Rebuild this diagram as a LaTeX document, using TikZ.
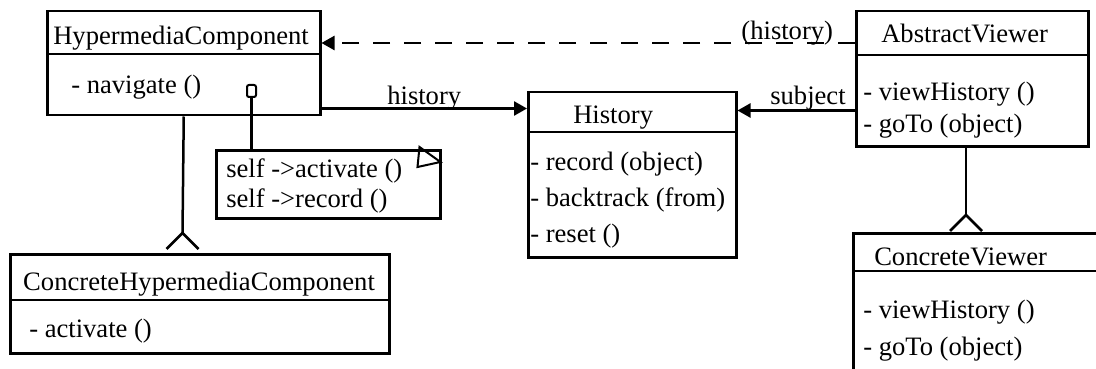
\documentclass[tikz,border=0pt]{standalone}
\usepackage{fontspec}
\setmainfont{Liberation Serif}
\usetikzlibrary{arrows.meta}

\tikzset{
  classbox/.style={draw, inner sep=0pt, anchor=north west},
  txt/.style={anchor=base west, inner sep=0pt},
  assoc/.style={-{Triangle[length=13pt,width=14pt]}},
}

\begin{document}
\begin{tikzpicture}[x=1pt, y=-1pt, line width=2.5pt, font=\fontsize{26.6}{30}\selectfont]
        \useasboundingbox (0,0) rectangle (1096,369);
        \clip (0,0) rectangle (1096,369);

        % class boxes
        \node[classbox, minimum width=273pt, minimum height=104pt] (hc) at (46,10) {};
        \node[classbox, minimum width=208pt, minimum height=165pt] (hist) at (527,91) {};
        \node[classbox, minimum width=232pt, minimum height=135pt] (av) at (855,10) {};
        \node[classbox, minimum width=270pt, minimum height=160pt] (cv) at (852,232) {};
        \node[classbox, minimum width=379pt, minimum height=99pt] (chc) at (9,253) {};
        \node[classbox, minimum width=224pt, minimum height=68pt] (note) at (215,149) {};

        \draw ([shift={(0,44)}]hc.north west) -- ([shift={(0,44)}]hc.north east);
        \draw ([shift={(0,41)}]hist.north west) -- ([shift={(-3,41)}]hist.north east);
        \draw ([shift={(0,45)}]av.north west) -- ([shift={(0,45)}]av.north east);
        \draw ([shift={(0,39)}]cv.north west) -- ([shift={(0,39)}]cv.north east);
        \draw ([shift={(0,47)}]chc.north west) -- ([shift={(-3,47)}]chc.north east);

        % names and operations
        \node[txt] (hc-title) at (52,45) {HypermediaComponent};
        \node[txt] (hc-op) at (70,94) {- navigate ()};
        \node[txt] (hist-title) at (572,123) {History};
        \node[txt] (hist-op1) at (529,170) {- record (object)};
        \node[txt] (hist-op2) at (529,206) {- backtrack (from)};
        \node[txt] (hist-op3) at (529,242) {- reset ()};
        \node[txt] (av-title) at (880,43) {AbstractViewer};
        \node[txt] (av-op1) at (862,100) {- viewHistory ()};
        \node[txt] (av-op2) at (862,132) {- goTo (object)};
        \node[txt] (cv-title) at (873,265) {ConcreteViewer};
        \node[txt] (cv-op1) at (862,318) {- viewHistory ()};
        \node[txt] (cv-op2) at (862,355) {- goTo (object)};
        \node[txt] (chc-title) at (22,290) {ConcreteHypermediaComponent};
        \node[txt] (chc-op) at (28,337) {- activate ()};
        \node[txt] (note-l1) at (225,177) {self ->activate ()};
        \node[txt] (note-l2) at (225,207) {self ->record ()};

        % note with its corner and port
        \draw[line width=2pt] ([shift={(-22,-2)}]note.north east) -- ([shift={(-24,18)}]note.north east)
                -- ([shift={(-1,13)}]note.north east) -- cycle;
        \node[draw, rounded corners=2pt, line width=2pt, inner sep=0pt,
                minimum width=9pt, minimum height=12pt] (hc-port) at (251.5,91) {};
        \draw (hc-port.south) -- (hc-port.south |- note.north);

        % associations
        \draw[assoc] ([shift={(0,-8)}]hc.south east) -- ([shift={(0,-8)}]hc.south east -| hist.west)
                node[midway, anchor=base, yshift=4pt] {history};
        \draw[assoc] ([shift={(0,-37)}]av.south west) -- ([shift={(0,-37)}]av.south west -| hist.east)
                node[pos=0.4, anchor=base, yshift=6pt] {subject};
        \draw[assoc, dash pattern=on 17pt off 14pt] ([shift={(0,33)}]av.north west) -- ([shift={(0,33)}]av.north west -| hc.east)
                node[pos=0.127, anchor=base, yshift=3pt] {(history)};

        % inheritance
        \coordinate (hc-gen) at (182.5,233);
        \coordinate (av-gen) at (966,215);
        \draw (hc.south) -- (hc-gen);
        \draw (av.south -| av-gen) -- (av-gen);
        \foreach \g in {hc-gen, av-gen}
                \draw ([shift={(-16,16)}]\g) -- (\g) -- ([shift={(16,16)}]\g);

\end{tikzpicture}
\end{document}
